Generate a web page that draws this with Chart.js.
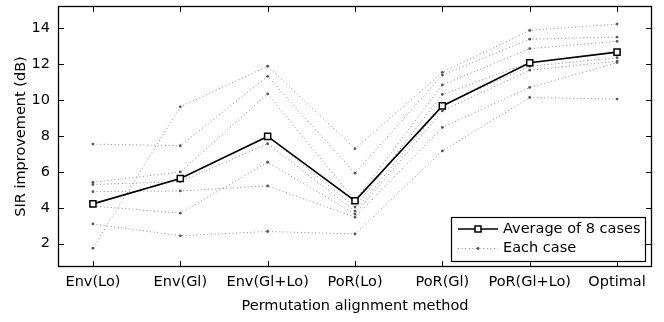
<!DOCTYPE html>
<html lang="en">
<head>
<meta charset="UTF-8">
<title>SIR improvement by permutation alignment method</title>
<script src="https://cdn.jsdelivr.net/npm/chart.js"></script>
<style>
    body { margin: 0; background: #fff; }
    #wrap { width: 664px; height: 322px; }
</style>
</head>
<body>
<div id="wrap"><canvas id="sirChart" width="664" height="322"></canvas></div>
<script>
    // categories and values
    const methods = ['Env(Lo)', 'Env(Gl)', 'Env(Gl+Lo)', 'PoR(Lo)', 'PoR(Gl)', 'PoR(Gl+Lo)', 'Optimal'];
    const average = [4.22, 5.63, 7.98, 4.39, 9.68, 12.09, 12.68];
    const case1 = [7.55, 7.46, 11.33, 5.93, 11.40, 13.40, 13.52];
    const case2 = [5.42, 6.00, 10.35, 4.40, 10.85, 12.87, 13.28];
    const case3 = [5.30, 5.46, 7.57, 3.82, 9.70, 11.89, 12.37];
    const case4 = [4.90, 4.94, 5.22, 3.48, 8.48, 10.71, 12.10];
    const case5 = [4.20, 5.60, 8.00, 4.04, 10.32, 12.10, 12.70];
    const case6 = [4.10, 3.70, 6.54, 3.65, 9.40, 11.67, 12.18];
    const case7 = [3.10, 2.44, 2.68, 2.54, 7.17, 10.15, 10.06];
    const case8 = [1.75, 9.63, 11.89, 7.30, 11.55, 13.89, 14.24];
    const cases = [case1, case2, case3, case4, case5, case6, case7, case8];
    const yTicks = [2, 4, 6, 8, 10, 12, 14];

    const FONT = 'DejaVu Sans';
    const toPoints = arr => arr.map((v, i) => ({ x: i, y: v }));

    const datasets = [{
        label: 'Average of 8 cases',
        data: toPoints(average),
        borderColor: '#000',
        borderWidth: 1.6,
        pointStyle: 'rect',
        pointRadius: 4.3,
        pointBorderWidth: 1.5,
        pointBackgroundColor: '#fff',
        pointBorderColor: '#000',
        order: 0
    }];
    cases.forEach((c, k) => {
        datasets.push({
            label: 'Case ' + (k + 1),
            data: toPoints(c),
            borderColor: '#8a8a8a',
            borderWidth: 1,
            borderDash: [1, 2.6],
            pointRadius: 1.4,
            pointBorderWidth: 0,
            pointBackgroundColor: '#555',
            order: 1
        });
    });

    // box, inward ticks and the legend, MATLAB style
    const framePlugin = {
        id: 'frame',
        afterDatasetsDraw(chart) {
            const ctx = chart.ctx;
            const xs = chart.scales.x, ys = chart.scales.y;
            const { left, right, top, bottom } = chart.chartArea;
            ctx.save();
            ctx.strokeStyle = '#000';
            ctx.lineWidth = 1;
            ctx.beginPath();
            methods.forEach((m, i) => {
                const px = Math.round(xs.getPixelForValue(i)) + 0.5;
                ctx.moveTo(px, bottom); ctx.lineTo(px, bottom - 6);
                ctx.moveTo(px, top); ctx.lineTo(px, top + 6);
            });
            yTicks.forEach(v => {
                const py = Math.round(ys.getPixelForValue(v)) + 0.5;
                ctx.moveTo(left, py); ctx.lineTo(left + 6, py);
                ctx.moveTo(right, py); ctx.lineTo(right - 6, py);
            });
            ctx.stroke();
            ctx.lineWidth = 1.3;
            ctx.strokeRect(left + 0.5, top + 0.5, right - left - 1, bottom - top - 1);
            ctx.restore();
        },
        afterDraw(chart) {
            const ctx = chart.ctx;
            const bx = 451.5, by = 217.5, bw = 194, bh = 44;
            ctx.save();
            ctx.fillStyle = '#fff';
            ctx.fillRect(bx, by, bw, bh);
            ctx.strokeStyle = '#000';
            ctx.lineWidth = 1.2;
            ctx.strokeRect(bx, by, bw, bh);

            // row 1: average
            let y = 229;
            ctx.lineWidth = 1.6;
            ctx.beginPath(); ctx.moveTo(458, y); ctx.lineTo(498, y); ctx.stroke();
            ctx.fillStyle = '#fff';
            ctx.lineWidth = 1.5;
            ctx.fillRect(475, y - 3, 6, 6);
            ctx.strokeRect(475, y - 3, 6, 6);

            // row 2: each case
            let y2 = 248.5;
            ctx.strokeStyle = '#8a8a8a';
            ctx.lineWidth = 1;
            ctx.setLineDash([1, 2.6]);
            ctx.beginPath(); ctx.moveTo(458, y2); ctx.lineTo(498, y2); ctx.stroke();
            ctx.setLineDash([]);
            ctx.fillStyle = '#555';
            ctx.beginPath(); ctx.arc(478, y2, 1.4, 0, Math.PI * 2); ctx.fill();

            ctx.fillStyle = '#000';
            ctx.font = '14.5px "' + FONT + '"';
            ctx.textBaseline = 'middle';
            ctx.textAlign = 'left';
            ctx.fillText('Average of 8 cases', 503, y);
            ctx.fillText('Each case', 503, y2);
            ctx.restore();
        }
    };

    const ctx = document.getElementById('sirChart').getContext('2d');
    const sirChart = new Chart(ctx, {
        type: 'line',
        data: { datasets: datasets },
        options: {
            responsive: false,
            animation: false,
            layout: { padding: { top: 6, right: 12, left: 0, bottom: 0 } },
            plugins: {
                legend: { display: false },
                tooltip: { enabled: false }
            },
            scales: {
                x: {
                    type: 'linear',
                    min: -0.4,
                    max: 6.4,
                    afterBuildTicks: s => { s.ticks = methods.map((m, i) => ({ value: i })); },
                    afterFit: s => {
                        s.height = 55;
                        s.paddingLeft = 0; s.paddingRight = 0;
                        s.paddingTop = 0; s.paddingBottom = 0;
                    },
                    grid: { display: false, drawTicks: false },
                    border: { display: false },
                    ticks: {
                        autoSkip: false,
                        maxRotation: 0,
                        padding: 7,
                        color: '#000',
                        font: { family: FONT, size: 14.5 },
                        callback: v => methods[v]
                    },
                    title: {
                        display: true,
                        text: 'Permutation alignment method',
                        color: '#000',
                        font: { family: FONT, size: 14.5 },
                        padding: { top: 0, bottom: 7 }
                    }
                },
                y: {
                    min: 0.7,
                    max: 15.25,
                    afterBuildTicks: s => { s.ticks = yTicks.map(v => ({ value: v })); },
                    afterFit: s => {
                        s.width = 58;
                        s.paddingLeft = 0; s.paddingRight = 0;
                        s.paddingTop = 0; s.paddingBottom = 0;
                    },
                    grid: { display: false, drawTicks: false },
                    border: { display: false },
                    ticks: {
                        padding: 8,
                        color: '#000',
                        font: { family: FONT, size: 14.5 }
                    },
                    title: {
                        display: true,
                        text: 'SIR improvement (dB)',
                        color: '#000',
                        font: { family: FONT, size: 14.5 },
                        padding: { top: 13, bottom: 0 }
                    }
                }
            }
        },
        plugins: [framePlugin]
    });
</script>
</body>
</html>
